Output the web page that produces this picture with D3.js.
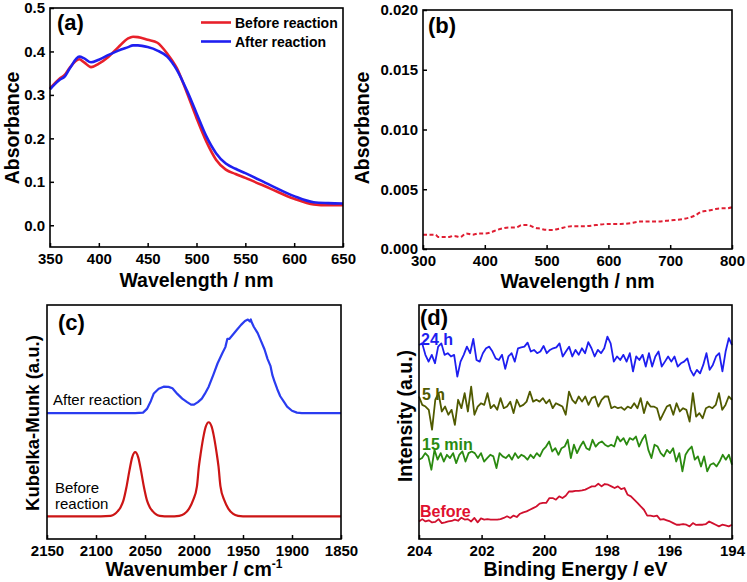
<!DOCTYPE html>
<html>
<head>
<meta charset="utf-8">
<script src="https://cdn.jsdelivr.net/npm/d3@7"></script>
<style>
  html, body { margin: 0; padding: 0; background: #fff; }
  svg text { font-family: "Liberation Sans", Arial, sans-serif; }
</style>
</head>
<body>
<script>
// ---------------- DATA ----------------
// (a) UV-vis absorbance
const wavelengthA = [350,360,365,370,380,385,392,400,410,420,430,435,440,450,460,470,480,490,500,510,520,530,540,550,575,600,620,635,650];
const absBefore   = [0.315,0.338,0.346,0.362,0.382,0.375,0.364,0.372,0.388,0.41,0.43,0.434,0.433,0.427,0.42,0.395,0.361,0.306,0.247,0.193,0.151,0.128,0.118,0.109,0.085,0.061,0.048,0.046,0.046];
const absAfter    = [0.313,0.335,0.342,0.36,0.388,0.384,0.375,0.381,0.392,0.402,0.41,0.414,0.414,0.41,0.402,0.388,0.357,0.311,0.258,0.205,0.166,0.142,0.13,0.12,0.093,0.067,0.053,0.051,0.05];
const xTicksA = [350,400,450,500,550,600,650];
const yTicksA = [0.0,0.1,0.2,0.3,0.4,0.5];

// (b) absorbance of filtrate
const wavelengthB = [300,310,320,325,330,340,350,360,370,380,390,400,410,420,440,450,460,470,480,490,500,510,520,540,560,580,600,620,640,650,660,680,700,720,740,750,760,770,780,790,800];
const absB        = [0.0012,0.0012,0.0012,0.0010,0.0010,0.0010,0.0011,0.0010,0.0013,0.0012,0.0013,0.0013,0.0014,0.0016,0.0018,0.0018,0.0020,0.0020,0.0018,0.0017,0.0016,0.0016,0.0017,0.0019,0.0019,0.0020,0.0021,0.0021,0.0022,0.0023,0.0023,0.0023,0.0024,0.0025,0.0028,0.0031,0.0032,0.0033,0.0034,0.0034,0.0035];
const xTicksB = [300,400,500,600,700,800];
const yTicksB = [0.000,0.005,0.010,0.015,0.020];

// (c) DRIFTS Kubelka-Munk (offset, arbitrary units)
const wnBefore = [2150,2095,2085,2081,2078,2075,2072,2069,2066,2063,2060,2057,2054,2051,2048,2045,2042,2039,2035,2030,2020,2015,2010,2005,2001,1997,1995,1993,1990,1988,1985,1982,1980,1977,1975,1973,1969,1965,1960,1955,1950,1850];
const kmBefore = [0.097,0.097,0.099,0.106,0.118,0.135,0.165,0.22,0.29,0.35,0.371,0.35,0.29,0.22,0.165,0.135,0.118,0.106,0.099,0.097,0.097,0.099,0.107,0.13,0.165,0.225,0.31,0.37,0.445,0.48,0.499,0.48,0.445,0.37,0.31,0.225,0.165,0.13,0.107,0.099,0.097,0.097];
const wnAfter  = [2150,2060,2052,2048,2044,2041,2036,2031,2026,2022,2017,2012,2007,2003,2000,1996,1992,1989,1985,1980,1976,1971,1968,1966,1964,1960,1956,1952,1948,1945,1943,1942,1941,1939,1935,1932,1928,1925,1922,1920,1918,1915,1912,1908,1905,1900,1895,1890,1850];
const kmAfter  = [0.538,0.538,0.540,0.556,0.59,0.622,0.642,0.651,0.65,0.644,0.62,0.6,0.585,0.574,0.574,0.585,0.6,0.62,0.651,0.705,0.75,0.795,0.82,0.855,0.855,0.875,0.895,0.915,0.932,0.938,0.93,0.938,0.925,0.907,0.88,0.85,0.81,0.77,0.74,0.7,0.675,0.64,0.61,0.585,0.566,0.548,0.54,0.538,0.538];
const xTicksC = [2150,2100,2050,2000,1950,1900,1850];

// (d) XPS (offset intensities, arbitrary units), sampled evenly from 204 to 194 eV
const xps24h = [82.9,83.6,78.7,75.8,78.7,75.1,82.2,83.6,78.7,79.4,78.0,78.7,69.4,75.8,78.7,82.2,79.4,85.5,76.5,75.8,79.4,81.5,82.2,80.1,77.2,76.5,78.7,72.7,78.0,79.4,75.8,81.5,81.9,82.2,83.9,80.1,80.8,79.4,80.1,82.5,79.4,80.8,81.5,81.9,83.6,78.0,80.1,82.2,78.0,80.8,78.7,81.5,79.4,84.1,81.5,78.0,80.8,79.4,81.5,86.5,83.6,75.8,78.0,76.5,78.7,75.8,79.4,71.6,78.0,76.5,78.7,73.7,79.4,73.7,78.0,80.1,73.7,75.8,78.0,75.8,78.0,73.7,75.1,75.8,77.2,72.3,69.8,72.3,70.8,74.4,79.4,72.3,74.4,78.0,79.4,71.6,80.1,85.8,82.9];
const xps5h  = [60.9,57.3,56.6,55.2,46.7,59.5,62.3,54.5,56.6,53.1,55.2,48.8,59.5,55.9,62.3,54.5,65.1,53.1,56.6,58.0,57.3,62.3,55.9,57.3,55.2,60.2,55.9,56.6,58.7,53.8,59.5,56.6,57.3,58.7,63.0,58.7,59.5,58.7,60.2,58.0,59.5,55.9,58.0,57.3,56.6,53.1,63.0,59.5,58.0,60.9,58.7,60.9,57.3,60.2,60.9,56.6,59.5,60.9,60.9,55.9,56.6,55.9,56.3,55.2,56.6,55.9,58.0,55.9,60.2,53.8,58.7,56.6,56.6,55.9,50.9,53.8,56.6,57.3,53.1,58.0,54.5,55.9,55.2,50.2,62.3,52.3,53.8,51.6,55.9,56.6,55.9,57.3,62.3,55.2,57.3,60.9,59.5];
const xps15m = [33.9,34.6,36.7,35.3,29.6,38.1,33.9,36.7,33.1,36.0,34.6,36.7,32.4,36.0,37.4,33.1,36.7,37.4,36.7,34.6,36.7,33.1,34.6,36.0,35.3,30.3,36.7,35.3,34.6,36.0,33.9,36.7,34.6,36.0,35.3,33.9,36.0,34.6,36.7,35.3,38.1,39.5,41.7,37.4,38.8,36.0,38.8,39.5,42.4,34.6,40.3,36.7,39.5,41.7,38.8,38.1,42.4,39.5,41.0,41.7,40.3,39.5,40.3,39.5,43.8,41.7,43.1,40.3,43.1,42.4,43.8,39.5,42.4,44.5,38.1,34.6,40.3,39.5,36.7,35.3,38.1,36.7,38.8,33.1,36.7,28.9,36.0,38.1,39.5,33.9,35.3,31.0,35.3,28.9,31.7,32.4,31.0,33.1,36.0,33.9,36.0,31.7];
const xpsBefore = [7.5,8.5,7.5,8.0,7.1,7.3,8.5,6.8,7.1,7.5,7.7,8.3,7.8,9.1,8.3,8.5,7.5,9.0,7.1,8.8,8.3,8.5,8.3,8.3,8.3,8.5,9.0,9.7,9.0,10.0,9.4,10.8,11.4,11.8,12.5,13.2,13.9,15.1,15.4,15.4,17.5,17.5,16.8,18.2,17.5,18.5,20.3,20.3,20.6,20.6,20.8,21.1,21.8,22.5,22.5,23.6,22.5,23.5,23.2,22.5,21.8,22.5,21.3,21.8,18.9,18.2,16.8,15.4,13.9,12.5,10.0,10.0,9.7,10.0,8.3,8.5,8.0,7.5,6.8,6.1,6.1,6.4,6.1,5.4,6.8,6.0,6.1,6.1,6.4,7.5,6.8,6.1,5.4,6.1,5.8,5.4,6.1];
const xTicksD = [204,202,200,198,196,194];
const eStart = 204, eEnd = 194;

// ---------------- DRAWING ----------------
const svg = d3.select("body").append("svg").attr("width", 747).attr("height", 582);
const TICK_FONT = 15, TITLE_FONT = 19.5;

function frame(box) {
  svg.append("rect").attr("x", box.l).attr("y", box.t)
    .attr("width", box.r - box.l).attr("height", box.b - box.t)
    .attr("fill", "none").attr("stroke", "#000").attr("stroke-width", 1.6);
}
function xAxis(box, x, ticks, fmt) {
  const g = svg.append("g").attr("transform", `translate(0,${box.b})`)
    .call(d3.axisBottom(x).tickValues(ticks).tickSize(-4).tickPadding(6).tickFormat(fmt));
  g.select(".domain").remove();
  g.selectAll("line").attr("stroke", "#000").attr("stroke-width", 1.5);
  g.selectAll("text").attr("font-size", TICK_FONT).attr("font-weight", "bold").attr("fill", "#000")
    .style("font-family", '"Liberation Sans", Arial, sans-serif');
}
function yAxis(box, y, ticks, fmt) {
  const g = svg.append("g").attr("transform", `translate(${box.l},0)`)
    .call(d3.axisLeft(y).tickValues(ticks).tickSize(-4).tickPadding(5).tickFormat(fmt));
  g.select(".domain").remove();
  g.selectAll("line").attr("stroke", "#000").attr("stroke-width", 1.5);
  g.selectAll("text").attr("font-size", TICK_FONT).attr("font-weight", "bold").attr("fill", "#000")
    .style("font-family", '"Liberation Sans", Arial, sans-serif');
}
function text(x, y, s, opts = {}) {
  const t = svg.append("text").attr("x", x).attr("y", y)
    .attr("font-size", opts.size || 14)
    .attr("font-weight", opts.weight || "bold")
    .attr("fill", opts.fill || "#000")
    .attr("text-anchor", opts.anchor || "start");
  if (opts.rotate) t.attr("transform", `rotate(-90,${x},${y})`).attr("dominant-baseline", "central");
  t.text(s);
  return t;
}
function path(data, x, y, color, width, curve, dash) {
  const line = d3.line().x(d => x(d[0])).y(d => y(d[1])).curve(curve || d3.curveMonotoneX);
  const p = svg.append("path").datum(data).attr("d", line)
    .attr("fill", "none").attr("stroke", color).attr("stroke-width", width)
    .attr("stroke-linejoin", "round");
  if (dash) p.attr("stroke-dasharray", dash);
  return p;
}
const zip = (a, b) => a.map((v, i) => [v, b[i]]);

// ---- Panel (a) ----
const boxA = { l: 50, r: 343, t: 8, b: 247 };
const xA = d3.scaleLinear().domain([350, 650]).range([boxA.l, boxA.r]);
const yA = d3.scaleLinear().domain([-0.05, 0.5]).range([boxA.b, boxA.t]);
path(zip(wavelengthA, absBefore), xA, yA, "#e8202a", 2.6);
path(zip(wavelengthA, absAfter), xA, yA, "#1f1ff0", 2.6);
frame(boxA);
xAxis(boxA, xA, xTicksA, d3.format("d"));
yAxis(boxA, yA, yTicksA, d3.format(".1f"));
text(57, 30, "(a)", { size: 22 });
svg.append("line").attr("x1", 201).attr("x2", 231).attr("y1", 22.5).attr("y2", 22.5).attr("stroke", "#e8202a").attr("stroke-width", 2.6);
svg.append("line").attr("x1", 201).attr("x2", 231).attr("y1", 41.5).attr("y2", 41.5).attr("stroke", "#1f1ff0").attr("stroke-width", 2.6);
text(235, 27.5, "Before reaction", { size: 14 });
text(235, 46.5, "After reaction", { size: 14 });
text((boxA.l + boxA.r) / 2, 287, "Wavelength / nm", { size: TITLE_FONT, anchor: "middle" });
text(12, 128, "Absorbance", { size: TITLE_FONT, anchor: "middle", rotate: true });

// ---- Panel (b) ----
const boxB = { l: 423, r: 732, t: 10, b: 249 };
const xB = d3.scaleLinear().domain([300, 800]).range([boxB.l, boxB.r]);
const yB = d3.scaleLinear().domain([0, 0.02]).range([boxB.b, boxB.t]);
path(zip(wavelengthB, absB), xB, yB, "#e01e32", 2, d3.curveMonotoneX, "4,2.5");
frame(boxB);
xAxis(boxB, xB, xTicksB, d3.format("d"));
yAxis(boxB, yB, yTicksB, d3.format(".3f"));
text(428, 33, "(b)", { size: 22 });
text((boxB.l + boxB.r) / 2, 288, "Wavelength / nm", { size: TITLE_FONT, anchor: "middle" });
text(362, 128, "Absorbance", { size: TITLE_FONT, anchor: "middle", rotate: true });

// ---- Panel (c) ----
const boxC = { l: 47, r: 341, t: 305, b: 539 };
const xC = d3.scaleLinear().domain([2150, 1850]).range([boxC.l, boxC.r]);
const yC = d3.scaleLinear().domain([0, 1]).range([boxC.b, boxC.t]);
path(zip(wnBefore, kmBefore), xC, yC, "#cc1515", 2.2);
path(zip(wnAfter, kmAfter), xC, yC, "#2a3cf0", 2.2, d3.curveLinear);
frame(boxC);
xAxis(boxC, xC, xTicksC, d3.format("d"));
text(58, 330, "(c)", { size: 22 });
text(53, 405, "After reaction", { size: 15, weight: "normal" });
text(55, 493, "Before", { size: 15, weight: "normal" });
text(55, 509, "reaction", { size: 15, weight: "normal" });
const tC = text((boxC.l + boxC.r) / 2, 576, "Wavenumber / cm", { size: TITLE_FONT, anchor: "middle" });
tC.append("tspan").attr("dy", -8).attr("font-size", 12).text("-1");
text(32, 423, "Kubelka-Munk (a.u.)", { size: 18.5, anchor: "middle", rotate: true });

// ---- Panel (d) ----
const boxD = { l: 419, r: 732, t: 305, b: 539 };
const xD = d3.scaleLinear().domain([204, 194]).range([boxD.l, boxD.r]);
const yD = d3.scaleLinear().domain([0, 100]).range([boxD.b, boxD.t]);
function energies(n) { return d3.range(n).map(i => eStart + (eEnd - eStart) * i / (n - 1)); }
path(zip(energies(xps24h.length), xps24h), xD, yD, "#1e1ef0", 1.8, d3.curveLinear);
path(zip(energies(xps5h.length), xps5h), xD, yD, "#505a00", 1.8, d3.curveLinear);
path(zip(energies(xps15m.length), xps15m), xD, yD, "#2a8a10", 1.8, d3.curveLinear);
path(zip(energies(xpsBefore.length), xpsBefore), xD, yD, "#d0102e", 1.8, d3.curveLinear);
frame(boxD);
xAxis(boxD, xD, xTicksD, d3.format("d"));
text(420, 325, "(d)", { size: 22 });
text(421, 345, "24 h", { size: 16, fill: "#1e1ef0" });
text(422, 400, "5 h", { size: 16, fill: "#505a00" });
text(422, 450, "15 min", { size: 16, fill: "#2a8a10" });
text(420, 517, "Before", { size: 16, fill: "#e0102e" });
text((boxD.l + boxD.r) / 2, 576, "Binding Energy / eV", { size: TITLE_FONT, anchor: "middle" });
text(405, 416, "Intensity (a.u.)", { size: TITLE_FONT, anchor: "middle", rotate: true });
</script>
</body>
</html>
